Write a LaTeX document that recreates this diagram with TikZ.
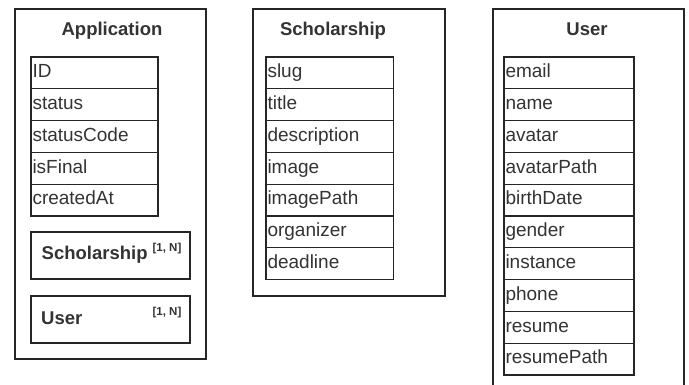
\documentclass[tikz,border=0pt]{standalone}
\usepackage{fontspec}
\setmainfont{Liberation Sans}
\usetikzlibrary{positioning}

\begin{document}
\begin{tikzpicture}[x=1pt,y=-1pt,
    entity/.style={rectangle,draw=black!85,line width=1.2pt,
        outer sep=0pt,inner sep=0pt,anchor=north west},
    field/.style={rectangle,draw=black!85,line width=1.1pt,outer sep=0pt,
        inner sep=1.5pt,minimum height=31.8pt,align=left,
        text height=13.6pt,text depth=4pt,text=black!80,
        font=\fontsize{19}{19}\selectfont},
    entitytitle/.style={anchor=base,inner sep=0pt,text=black!80,
        font=\fontsize{18.5}{18.5}\bfseries},
    ref/.style={entity,minimum width=159pt,minimum height=47pt},
    refname/.style={anchor=base west,inner sep=0pt,text=black!80,
        font=\fontsize{18.5}{18.5}\bfseries},
    card/.style={inner sep=0pt,text=black!80,font=\fontsize{11.5}{11.5}\bfseries}
]
 \useasboundingbox (0,0) rectangle (689,385);

 % Application
 \node[entity,minimum width=191pt,minimum height=350pt] (app) at (15,9) {};
 \node[entitytitle] (app-title) at (112,36) {Application};
 \node[field,text width=124pt,anchor=north west] (app-id) at (31,57) {ID};
 \node[field,text width=124pt] (app-status) [below=0pt of app-id] {status};
 \node[field,text width=124pt] (app-code) [below=0pt of app-status] {statusCode};
 \node[field,text width=124pt] (app-final) [below=0pt of app-code] {isFinal};
 \node[field,text width=124pt] (app-created) [below=0pt of app-final] {createdAt};
 \node[ref] (app-sch) at (31,232) {};
 \node[refname] (app-sch-name) at (41.5,260) {Scholarship};
 \node[card] at ([xshift=-23pt,yshift=-17pt]app-sch.north east) {[1, N]};
 \node[ref] (app-user) at (31,296) {};
 \node[refname] (app-user-name) at (41,324) {User};
 \node[card] at ([xshift=-23pt,yshift=-17pt]app-user.north east) {[1, N]};

 % Scholarship
 \node[entity,minimum width=192pt,minimum height=287pt] (sch) at (253,9) {};
 \node[entitytitle] (sch-head) at (333,36) {Scholarship};
 \node[field,text width=124.5pt,anchor=north west] (sch-slug) at (266,57) {slug};
 \node[field,text width=124.5pt] (sch-title) [below=0pt of sch-slug] {title};
 \node[field,text width=124.5pt] (sch-desc) [below=0pt of sch-title] {description};
 \node[field,text width=124.5pt] (sch-image) [below=0pt of sch-desc] {image};
 \node[field,text width=124.5pt] (sch-imgpath) [below=0pt of sch-image] {imagePath};
 \node[field,text width=124.5pt] (sch-org) [below=0pt of sch-imgpath] {organizer};
 \node[field,text width=124.5pt] (sch-deadline) [below=0pt of sch-org] {deadline};

 % User
 \node[entity,minimum width=191pt,minimum height=400pt] (user) at (493,9) {};
 \node[entitytitle] (user-head) at (587,36) {User};
 \node[field,text width=127pt,anchor=north west] (user-email) at (504,57) {email};
 \node[field,text width=127pt] (user-name) [below=0pt of user-email] {name};
 \node[field,text width=127pt] (user-avatar) [below=0pt of user-name] {avatar};
 \node[field,text width=127pt] (user-avpath) [below=0pt of user-avatar] {avatarPath};
 \node[field,text width=127pt] (user-birth) [below=0pt of user-avpath] {birthDate};
 \node[field,text width=127pt] (user-gender) [below=0pt of user-birth] {gender};
 \node[field,text width=127pt] (user-inst) [below=0pt of user-gender] {instance};
 \node[field,text width=127pt] (user-phone) [below=0pt of user-inst] {phone};
 \node[field,text width=127pt] (user-resume) [below=0pt of user-phone] {resume};
 \node[field,text width=127pt] (user-respath) [below=0pt of user-resume] {resumePath};
\end{tikzpicture}
\end{document}
